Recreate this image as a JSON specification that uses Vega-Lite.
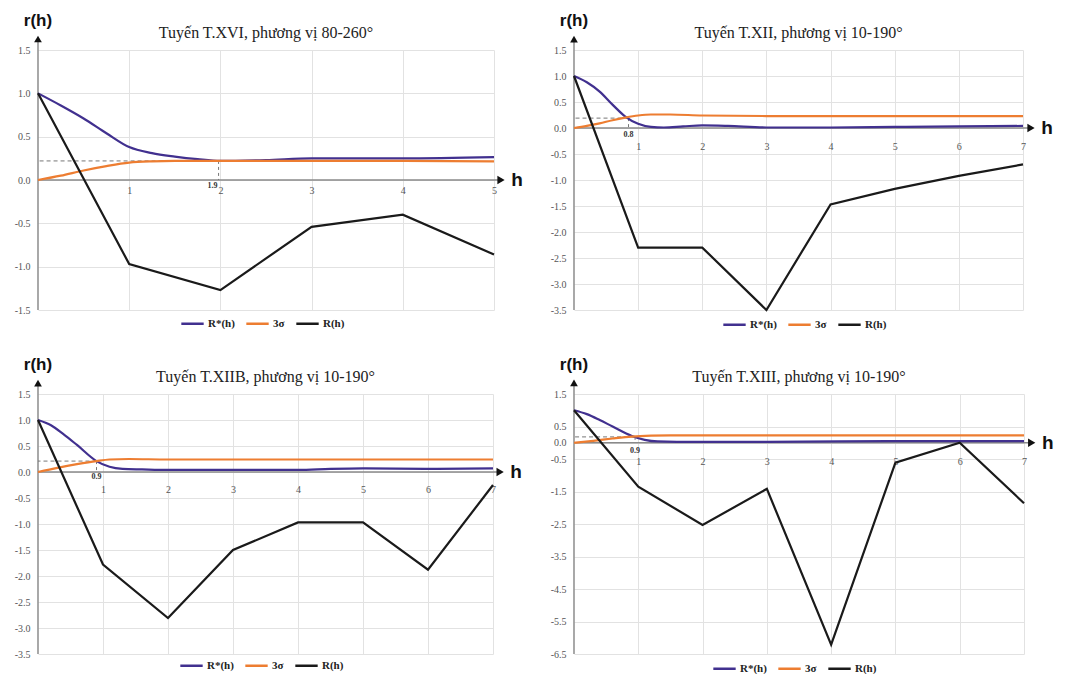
{
"$schema": "https://vega.github.io/schema/vega-lite/v6.json",
"padding": {"left": 14, "top": 11, "right": 0, "bottom": 0},
"background": "white",
"config": {
  "view": {"stroke": null},
  "axis": {"labelFont": "Liberation Serif", "labelFontSize": 10, "labelColor": "#555555", "gridColor": "#e2e2e2", "gridWidth": 1, "ticks": false, "domain": false, "labelOverlap": false, "labelFlush": false, "labelSeparation": 0}
},
"datasets": {
  "d1": [
    {"h":0,"r":1.0,"s":"R*(h)"},{"h":0.25,"r":0.86,"s":"R*(h)"},{"h":0.5,"r":0.71,"s":"R*(h)"},{"h":0.75,"r":0.54,"s":"R*(h)"},{"h":1,"r":0.38,"s":"R*(h)"},{"h":1.25,"r":0.31,"s":"R*(h)"},{"h":1.5,"r":0.27,"s":"R*(h)"},{"h":1.75,"r":0.24,"s":"R*(h)"},{"h":2,"r":0.22,"s":"R*(h)"},{"h":2.5,"r":0.23,"s":"R*(h)"},{"h":3,"r":0.25,"s":"R*(h)"},{"h":4,"r":0.25,"s":"R*(h)"},{"h":5,"r":0.265,"s":"R*(h)"},
    {"h":0,"r":0.0,"s":"3σ"},{"h":0.25,"r":0.05,"s":"3σ"},{"h":0.5,"r":0.11,"s":"3σ"},{"h":0.75,"r":0.16,"s":"3σ"},{"h":1,"r":0.2,"s":"3σ"},{"h":1.25,"r":0.215,"s":"3σ"},{"h":1.5,"r":0.22,"s":"3σ"},{"h":2,"r":0.22,"s":"3σ"},{"h":3,"r":0.22,"s":"3σ"},{"h":4,"r":0.22,"s":"3σ"},{"h":5,"r":0.215,"s":"3σ"},
    {"h":0,"r":1.0,"s":"R(h)"},{"h":1,"r":-0.97,"s":"R(h)"},{"h":2,"r":-1.27,"s":"R(h)"},{"h":3,"r":-0.54,"s":"R(h)"},{"h":4,"r":-0.4,"s":"R(h)"},{"h":5,"r":-0.86,"s":"R(h)"}
  ],
  "c1": [{"h":1.98,"r":0.22,"label":"1.9"}],
  "d2": [
    {"h":0,"r":1.0,"s":"R*(h)"},{"h":0.2,"r":0.88,"s":"R*(h)"},{"h":0.4,"r":0.7,"s":"R*(h)"},{"h":0.6,"r":0.45,"s":"R*(h)"},{"h":0.8,"r":0.22,"s":"R*(h)"},{"h":1,"r":0.08,"s":"R*(h)"},{"h":1.2,"r":0.02,"s":"R*(h)"},{"h":1.4,"r":0.01,"s":"R*(h)"},{"h":1.7,"r":0.03,"s":"R*(h)"},{"h":2,"r":0.05,"s":"R*(h)"},{"h":2.4,"r":0.04,"s":"R*(h)"},{"h":3,"r":0.01,"s":"R*(h)"},{"h":4,"r":0.01,"s":"R*(h)"},{"h":5,"r":0.02,"s":"R*(h)"},{"h":6,"r":0.03,"s":"R*(h)"},{"h":7,"r":0.04,"s":"R*(h)"},
    {"h":0,"r":0.0,"s":"3σ"},{"h":0.2,"r":0.04,"s":"3σ"},{"h":0.4,"r":0.09,"s":"3σ"},{"h":0.6,"r":0.15,"s":"3σ"},{"h":0.8,"r":0.2,"s":"3σ"},{"h":1,"r":0.24,"s":"3σ"},{"h":1.2,"r":0.26,"s":"3σ"},{"h":1.5,"r":0.26,"s":"3σ"},{"h":2,"r":0.24,"s":"3σ"},{"h":3,"r":0.23,"s":"3σ"},{"h":5,"r":0.23,"s":"3σ"},{"h":7,"r":0.23,"s":"3σ"},
    {"h":0,"r":1.0,"s":"R(h)"},{"h":1,"r":-2.3,"s":"R(h)"},{"h":2,"r":-2.3,"s":"R(h)"},{"h":3,"r":-3.5,"s":"R(h)"},{"h":4,"r":-1.47,"s":"R(h)"},{"h":5,"r":-1.17,"s":"R(h)"},{"h":6,"r":-0.92,"s":"R(h)"},{"h":7,"r":-0.7,"s":"R(h)"}
  ],
  "c2": [{"h":0.85,"r":0.19,"label":"0.8"}],
  "d3": [
    {"h":0,"r":1.0,"s":"R*(h)"},{"h":0.2,"r":0.9,"s":"R*(h)"},{"h":0.4,"r":0.72,"s":"R*(h)"},{"h":0.6,"r":0.52,"s":"R*(h)"},{"h":0.9,"r":0.21,"s":"R*(h)"},{"h":1.1,"r":0.1,"s":"R*(h)"},{"h":1.3,"r":0.06,"s":"R*(h)"},{"h":1.6,"r":0.05,"s":"R*(h)"},{"h":2,"r":0.04,"s":"R*(h)"},{"h":3,"r":0.04,"s":"R*(h)"},{"h":4,"r":0.04,"s":"R*(h)"},{"h":4.5,"r":0.06,"s":"R*(h)"},{"h":5,"r":0.07,"s":"R*(h)"},{"h":6,"r":0.06,"s":"R*(h)"},{"h":7,"r":0.07,"s":"R*(h)"},
    {"h":0,"r":0.0,"s":"3σ"},{"h":0.3,"r":0.08,"s":"3σ"},{"h":0.6,"r":0.15,"s":"3σ"},{"h":0.9,"r":0.21,"s":"3σ"},{"h":1.1,"r":0.24,"s":"3σ"},{"h":1.4,"r":0.25,"s":"3σ"},{"h":2,"r":0.24,"s":"3σ"},{"h":4,"r":0.24,"s":"3σ"},{"h":7,"r":0.24,"s":"3σ"},
    {"h":0,"r":1.0,"s":"R(h)"},{"h":1,"r":-1.78,"s":"R(h)"},{"h":2,"r":-2.81,"s":"R(h)"},{"h":3,"r":-1.5,"s":"R(h)"},{"h":4,"r":-0.97,"s":"R(h)"},{"h":5,"r":-0.97,"s":"R(h)"},{"h":6,"r":-1.88,"s":"R(h)"},{"h":7,"r":-0.25,"s":"R(h)"}
  ],
  "c3": [{"h":0.9,"r":0.21,"label":"0.9"}],
  "d4": [
    {"h":0,"r":1.0,"s":"R*(h)"},{"h":0.2,"r":0.88,"s":"R*(h)"},{"h":0.4,"r":0.7,"s":"R*(h)"},{"h":0.6,"r":0.5,"s":"R*(h)"},{"h":0.9,"r":0.21,"s":"R*(h)"},{"h":1.1,"r":0.09,"s":"R*(h)"},{"h":1.3,"r":0.04,"s":"R*(h)"},{"h":1.6,"r":0.03,"s":"R*(h)"},{"h":3,"r":0.03,"s":"R*(h)"},{"h":5,"r":0.05,"s":"R*(h)"},{"h":7,"r":0.05,"s":"R*(h)"},
    {"h":0,"r":0.0,"s":"3σ"},{"h":0.3,"r":0.06,"s":"3σ"},{"h":0.6,"r":0.13,"s":"3σ"},{"h":0.9,"r":0.19,"s":"3σ"},{"h":1.2,"r":0.22,"s":"3σ"},{"h":1.5,"r":0.23,"s":"3σ"},{"h":3,"r":0.23,"s":"3σ"},{"h":7,"r":0.23,"s":"3σ"},
    {"h":0,"r":1.0,"s":"R(h)"},{"h":1,"r":-1.35,"s":"R(h)"},{"h":2,"r":-2.53,"s":"R(h)"},{"h":3,"r":-1.42,"s":"R(h)"},{"h":4,"r":-6.21,"s":"R(h)"},{"h":5,"r":-0.61,"s":"R(h)"},{"h":6,"r":0.0,"s":"R(h)"},{"h":7,"r":-1.86,"s":"R(h)"}
  ],
  "c4": [{"h":0.95,"r":0.18,"label":"0.9"}]
},
"bounds": "flush",
"columns": 2,
"spacing": {"row": 84, "column": 80},
"resolve": {"scale": {"color": "independent"}, "legend": {"color": "independent"}},
"concat": [
{
 "width": 456, "height": 260,
 "layer": [
  {"data":{"values":[{}]},"mark":{"type":"rule","color":"#7a7a7a","strokeWidth":1.3},
   "encoding":{"x":{"datum":0,"type":"quantitative","scale":{"domain":[0,5],"nice":false,"zero":false}},"y":{"datum":-1.5,"type":"quantitative","scale":{"domain":[-1.5,1.5],"nice":false,"zero":false}},"y2":{"datum":1.627}}},
  {"data":{"values":[{}]},"mark":{"type":"rule","color":"#8a8a8a","strokeWidth":1.3},
   "encoding":{"x":{"datum":0,"type":"quantitative","scale":{"domain":[0,5],"nice":false,"zero":false}},"x2":{"datum":5.077},"y":{"datum":0,"type":"quantitative","scale":{"domain":[-1.5,1.5],"nice":false,"zero":false}}}},
  {"data":{"name":"c1"},"mark":{"type":"rule","color":"#777777","strokeWidth":1,"strokeDash":[4,3]},
   "encoding":{"x":{"field":"h","type":"quantitative","scale":{"domain":[0,5],"nice":false,"zero":false}},"x2":{"datum":0},"y":{"field":"r","type":"quantitative","scale":{"domain":[-1.5,1.5],"nice":false,"zero":false}}}},
  {"data":{"name":"c1"},"mark":{"type":"rule","color":"#777777","strokeWidth":1,"strokeDash":[3,3]},
   "encoding":{"x":{"field":"h","type":"quantitative","scale":{"domain":[0,5],"nice":false,"zero":false}},"y":{"field":"r","type":"quantitative","scale":{"domain":[-1.5,1.5],"nice":false,"zero":false}},"y2":{"datum":0}}},
  {"data":{"name":"d1"},"transform":[{"filter":"datum.s !== 'R(h)'"}],"mark":{"type":"line","interpolate":"monotone","strokeWidth":2.2},
   "encoding":{
     "x":{"field":"h","type":"quantitative","scale":{"domain":[0,5],"nice":false,"zero":false},"axis":{"title":null,"orient":"bottom","offset":-130,"values":[1,2,3,4,5],"tickCount":30,"format":"d","grid":true,"labelFlush":false,"labelOverlap":false,"labelPadding":5}},
     "y":{"field":"r","type":"quantitative","scale":{"domain":[-1.5,1.5],"nice":false,"zero":false},"axis":{"title":null,"values":[-1.5,-1,-0.5,0,0.5,1,1.5],"tickCount":30,"format":".1f","grid":true,"labelFlush":false,"labelOverlap":false,"labelPadding":8,"labelExpr":"replace(datum.label, '−', '-')"}},
     "color":{"field":"s","type":"nominal","scale":{"domain":["R*(h)","3σ","R(h)"],"range":["#41308f","#ed7d31","#1a1a1a"]},"legend":{"orient":"none","legendX":142,"legendY":261,"direction":"horizontal","columns":3,"title":null,"symbolType":"stroke","symbolSize":500,"symbolStrokeWidth":2.5,"labelFont":"Liberation Serif","labelFontSize":11,"labelFontWeight":"bold","labelColor":"#222222","columnPadding":6,"labelOffset":3,"padding":0}}}},
  {"data":{"name":"d1"},"transform":[{"filter":"datum.s === 'R(h)'"}],"mark":{"type":"line","strokeWidth":2.2},
   "encoding":{"x":{"field":"h","type":"quantitative","scale":{"domain":[0,5],"nice":false,"zero":false}},"y":{"field":"r","type":"quantitative","scale":{"domain":[-1.5,1.5],"nice":false,"zero":false}},"color":{"field":"s","type":"nominal","scale":{"domain":["R*(h)","3σ","R(h)"],"range":["#41308f","#ed7d31","#1a1a1a"]},"legend":null}}},
  {"data":{"values":[{}]},"mark":{"type":"point","shape":"triangle-right","filled":true,"size":70,"color":"#111111","opacity":1},
   "encoding":{"x":{"datum":5.077,"type":"quantitative","scale":{"domain":[0,5],"nice":false,"zero":false}},"y":{"datum":0,"type":"quantitative","scale":{"domain":[-1.5,1.5],"nice":false,"zero":false}}}},
  {"data":{"values":[{}]},"mark":{"type":"point","shape":"triangle-up","filled":true,"size":60,"color":"#111111","opacity":1},
   "encoding":{"x":{"datum":0,"type":"quantitative","scale":{"domain":[0,5],"nice":false,"zero":false}},"y":{"datum":1.627,"type":"quantitative","scale":{"domain":[-1.5,1.5],"nice":false,"zero":false}}}},
  {"data":{"values":[{}]},"mark":{"type":"text","text":"r(h)","font":"Liberation Sans","fontWeight":"bold","fontSize":17,"dy":-18,"baseline":"middle","align":"center","color":"#111111"},
   "encoding":{"x":{"datum":0,"type":"quantitative","scale":{"domain":[0,5],"nice":false,"zero":false}},"y":{"datum":1.627,"type":"quantitative","scale":{"domain":[-1.5,1.5],"nice":false,"zero":false}}}},
  {"data":{"values":[{}]},"mark":{"type":"text","text":"h","font":"Liberation Sans","fontWeight":"bold","fontSize":19,"dx":16,"baseline":"middle","align":"center","color":"#111111"},
   "encoding":{"x":{"datum":5.077,"type":"quantitative","scale":{"domain":[0,5],"nice":false,"zero":false}},"y":{"datum":0,"type":"quantitative","scale":{"domain":[-1.5,1.5],"nice":false,"zero":false}}}},
  {"data":{"values":[{}]},"mark":{"type":"text","text":"Tuyến T.XVI, phương vị 80-260°","font":"Liberation Serif","fontSize":16,"dy":-12,"baseline":"alphabetic","align":"center","color":"#222222"},
   "encoding":{"x":{"datum":2.5,"type":"quantitative","scale":{"domain":[0,5],"nice":false,"zero":false}},"y":{"datum":1.5,"type":"quantitative","scale":{"domain":[-1.5,1.5],"nice":false,"zero":false}}}},
  {"data":{"name":"c1"},"mark":{"type":"text","font":"Liberation Serif","fontWeight":"bold","fontSize":8,"dy":6,"dx":-1,"baseline":"middle","align":"right","color":"#333333"},
   "encoding":{"x":{"field":"h","type":"quantitative","scale":{"domain":[0,5],"nice":false,"zero":false}},"y":{"datum":0,"type":"quantitative","scale":{"domain":[-1.5,1.5],"nice":false,"zero":false}},"text":{"field":"label","type":"nominal"}}}
 ]
},
{
 "width": 449, "height": 260,
 "layer": [
  {"data":{"values":[{}]},"mark":{"type":"rule","color":"#7a7a7a","strokeWidth":1.3},
   "encoding":{"x":{"datum":0,"type":"quantitative","scale":{"domain":[0,7],"nice":false,"zero":false}},"y":{"datum":-3.5,"type":"quantitative","scale":{"domain":[-3.5,1.5],"nice":false,"zero":false}},"y2":{"datum":1.71}}},
  {"data":{"values":[{}]},"mark":{"type":"rule","color":"#8a8a8a","strokeWidth":1.3},
   "encoding":{"x":{"datum":0,"type":"quantitative","scale":{"domain":[0,7],"nice":false,"zero":false}},"x2":{"datum":7.125},"y":{"datum":0,"type":"quantitative","scale":{"domain":[-3.5,1.5],"nice":false,"zero":false}}}},
  {"data":{"name":"c2"},"mark":{"type":"rule","color":"#777777","strokeWidth":1,"strokeDash":[4,3]},
   "encoding":{"x":{"field":"h","type":"quantitative","scale":{"domain":[0,7],"nice":false,"zero":false}},"x2":{"datum":0},"y":{"field":"r","type":"quantitative","scale":{"domain":[-3.5,1.5],"nice":false,"zero":false}}}},
  {"data":{"name":"c2"},"mark":{"type":"rule","color":"#777777","strokeWidth":1,"strokeDash":[3,3]},
   "encoding":{"x":{"field":"h","type":"quantitative","scale":{"domain":[0,7],"nice":false,"zero":false}},"y":{"field":"r","type":"quantitative","scale":{"domain":[-3.5,1.5],"nice":false,"zero":false}},"y2":{"datum":0}}},
  {"data":{"name":"d2"},"transform":[{"filter":"datum.s !== 'R(h)'"}],"mark":{"type":"line","interpolate":"monotone","strokeWidth":2.2},
   "encoding":{
     "x":{"field":"h","type":"quantitative","scale":{"domain":[0,7],"nice":false,"zero":false},"axis":{"title":null,"orient":"bottom","offset":-182,"values":[1,2,3,4,5,6,7],"tickCount":30,"format":"d","grid":true,"labelFlush":false,"labelOverlap":false,"labelPadding":13}},
     "y":{"field":"r","type":"quantitative","scale":{"domain":[-3.5,1.5],"nice":false,"zero":false},"axis":{"title":null,"values":[-3.5,-3,-2.5,-2,-1.5,-1,-0.5,0,0.5,1,1.5],"tickCount":30,"format":".1f","grid":true,"labelFlush":false,"labelOverlap":false,"labelPadding":8,"labelExpr":"replace(datum.label, '−', '-')"}},
     "color":{"field":"s","type":"nominal","scale":{"domain":["R*(h)","3σ","R(h)"],"range":["#41308f","#ed7d31","#1a1a1a"]},"legend":{"orient":"none","legendX":148,"legendY":262,"direction":"horizontal","columns":3,"title":null,"symbolType":"stroke","symbolSize":500,"symbolStrokeWidth":2.5,"labelFont":"Liberation Serif","labelFontSize":11,"labelFontWeight":"bold","labelColor":"#222222","columnPadding":6,"labelOffset":3,"padding":0}}}},
  {"data":{"name":"d2"},"transform":[{"filter":"datum.s === 'R(h)'"}],"mark":{"type":"line","strokeWidth":2.2},
   "encoding":{"x":{"field":"h","type":"quantitative","scale":{"domain":[0,7],"nice":false,"zero":false}},"y":{"field":"r","type":"quantitative","scale":{"domain":[-3.5,1.5],"nice":false,"zero":false}},"color":{"field":"s","type":"nominal","scale":{"domain":["R*(h)","3σ","R(h)"],"range":["#41308f","#ed7d31","#1a1a1a"]},"legend":null}}},
  {"data":{"values":[{}]},"mark":{"type":"point","shape":"triangle-right","filled":true,"size":70,"color":"#111111","opacity":1},
   "encoding":{"x":{"datum":7.125,"type":"quantitative","scale":{"domain":[0,7],"nice":false,"zero":false}},"y":{"datum":0,"type":"quantitative","scale":{"domain":[-3.5,1.5],"nice":false,"zero":false}}}},
  {"data":{"values":[{}]},"mark":{"type":"point","shape":"triangle-up","filled":true,"size":60,"color":"#111111","opacity":1},
   "encoding":{"x":{"datum":0,"type":"quantitative","scale":{"domain":[0,7],"nice":false,"zero":false}},"y":{"datum":1.71,"type":"quantitative","scale":{"domain":[-3.5,1.5],"nice":false,"zero":false}}}},
  {"data":{"values":[{}]},"mark":{"type":"text","text":"r(h)","font":"Liberation Sans","fontWeight":"bold","fontSize":17,"dy":-18,"baseline":"middle","align":"center","color":"#111111"},
   "encoding":{"x":{"datum":0,"type":"quantitative","scale":{"domain":[0,7],"nice":false,"zero":false}},"y":{"datum":1.71,"type":"quantitative","scale":{"domain":[-3.5,1.5],"nice":false,"zero":false}}}},
  {"data":{"values":[{}]},"mark":{"type":"text","text":"h","font":"Liberation Sans","fontWeight":"bold","fontSize":19,"dx":16,"baseline":"middle","align":"center","color":"#111111"},
   "encoding":{"x":{"datum":7.125,"type":"quantitative","scale":{"domain":[0,7],"nice":false,"zero":false}},"y":{"datum":0,"type":"quantitative","scale":{"domain":[-3.5,1.5],"nice":false,"zero":false}}}},
  {"data":{"values":[{}]},"mark":{"type":"text","text":"Tuyến T.XII, phương vị 10-190°","font":"Liberation Serif","fontSize":16,"dy":-12,"baseline":"alphabetic","align":"center","color":"#222222"},
   "encoding":{"x":{"datum":3.5,"type":"quantitative","scale":{"domain":[0,7],"nice":false,"zero":false}},"y":{"datum":1.5,"type":"quantitative","scale":{"domain":[-3.5,1.5],"nice":false,"zero":false}}}},
  {"data":{"name":"c2"},"mark":{"type":"text","font":"Liberation Serif","fontWeight":"bold","fontSize":8,"dy":7,"baseline":"middle","align":"center","color":"#333333"},
   "encoding":{"x":{"field":"h","type":"quantitative","scale":{"domain":[0,7],"nice":false,"zero":false}},"y":{"datum":0,"type":"quantitative","scale":{"domain":[-3.5,1.5],"nice":false,"zero":false}},"text":{"field":"label","type":"nominal"}}}
 ]
},
{
 "width": 455, "height": 260,
 "layer": [
  {"data":{"values":[{}]},"mark":{"type":"rule","color":"#7a7a7a","strokeWidth":1.3},
   "encoding":{"x":{"datum":0,"type":"quantitative","scale":{"domain":[0,7],"nice":false,"zero":false}},"y":{"datum":-3.5,"type":"quantitative","scale":{"domain":[-3.5,1.5],"nice":false,"zero":false}},"y2":{"datum":1.71}}},
  {"data":{"values":[{}]},"mark":{"type":"rule","color":"#8a8a8a","strokeWidth":1.3},
   "encoding":{"x":{"datum":0,"type":"quantitative","scale":{"domain":[0,7],"nice":false,"zero":false}},"x2":{"datum":7.11},"y":{"datum":0,"type":"quantitative","scale":{"domain":[-3.5,1.5],"nice":false,"zero":false}}}},
  {"data":{"name":"c3"},"mark":{"type":"rule","color":"#777777","strokeWidth":1,"strokeDash":[4,3]},
   "encoding":{"x":{"field":"h","type":"quantitative","scale":{"domain":[0,7],"nice":false,"zero":false}},"x2":{"datum":0},"y":{"field":"r","type":"quantitative","scale":{"domain":[-3.5,1.5],"nice":false,"zero":false}}}},
  {"data":{"name":"c3"},"mark":{"type":"rule","color":"#777777","strokeWidth":1,"strokeDash":[3,3]},
   "encoding":{"x":{"field":"h","type":"quantitative","scale":{"domain":[0,7],"nice":false,"zero":false}},"y":{"field":"r","type":"quantitative","scale":{"domain":[-3.5,1.5],"nice":false,"zero":false}},"y2":{"datum":0}}},
  {"data":{"name":"d3"},"transform":[{"filter":"datum.s !== 'R(h)'"}],"mark":{"type":"line","interpolate":"monotone","strokeWidth":2.2},
   "encoding":{
     "x":{"field":"h","type":"quantitative","scale":{"domain":[0,7],"nice":false,"zero":false},"axis":{"title":null,"orient":"bottom","offset":-182,"values":[1,2,3,4,5,6,7],"tickCount":30,"format":"d","grid":true,"labelFlush":false,"labelOverlap":false,"labelPadding":12}},
     "y":{"field":"r","type":"quantitative","scale":{"domain":[-3.5,1.5],"nice":false,"zero":false},"axis":{"title":null,"values":[-3.5,-3,-2.5,-2,-1.5,-1,-0.5,0,0.5,1,1.5],"tickCount":30,"format":".1f","grid":true,"labelFlush":false,"labelOverlap":false,"labelPadding":8,"labelExpr":"replace(datum.label, '−', '-')"}},
     "color":{"field":"s","type":"nominal","scale":{"domain":["R*(h)","3σ","R(h)"],"range":["#41308f","#ed7d31","#1a1a1a"]},"legend":{"orient":"none","legendX":141,"legendY":259,"direction":"horizontal","columns":3,"title":null,"symbolType":"stroke","symbolSize":500,"symbolStrokeWidth":2.5,"labelFont":"Liberation Serif","labelFontSize":11,"labelFontWeight":"bold","labelColor":"#222222","columnPadding":6,"labelOffset":3,"padding":0}}}},
  {"data":{"name":"d3"},"transform":[{"filter":"datum.s === 'R(h)'"}],"mark":{"type":"line","strokeWidth":2.2},
   "encoding":{"x":{"field":"h","type":"quantitative","scale":{"domain":[0,7],"nice":false,"zero":false}},"y":{"field":"r","type":"quantitative","scale":{"domain":[-3.5,1.5],"nice":false,"zero":false}},"color":{"field":"s","type":"nominal","scale":{"domain":["R*(h)","3σ","R(h)"],"range":["#41308f","#ed7d31","#1a1a1a"]},"legend":null}}},
  {"data":{"values":[{}]},"mark":{"type":"point","shape":"triangle-right","filled":true,"size":70,"color":"#111111","opacity":1},
   "encoding":{"x":{"datum":7.11,"type":"quantitative","scale":{"domain":[0,7],"nice":false,"zero":false}},"y":{"datum":0,"type":"quantitative","scale":{"domain":[-3.5,1.5],"nice":false,"zero":false}}}},
  {"data":{"values":[{}]},"mark":{"type":"point","shape":"triangle-up","filled":true,"size":60,"color":"#111111","opacity":1},
   "encoding":{"x":{"datum":0,"type":"quantitative","scale":{"domain":[0,7],"nice":false,"zero":false}},"y":{"datum":1.71,"type":"quantitative","scale":{"domain":[-3.5,1.5],"nice":false,"zero":false}}}},
  {"data":{"values":[{}]},"mark":{"type":"text","text":"r(h)","font":"Liberation Sans","fontWeight":"bold","fontSize":17,"dy":-18,"baseline":"middle","align":"center","color":"#111111"},
   "encoding":{"x":{"datum":0,"type":"quantitative","scale":{"domain":[0,7],"nice":false,"zero":false}},"y":{"datum":1.71,"type":"quantitative","scale":{"domain":[-3.5,1.5],"nice":false,"zero":false}}}},
  {"data":{"values":[{}]},"mark":{"type":"text","text":"h","font":"Liberation Sans","fontWeight":"bold","fontSize":19,"dx":16,"baseline":"middle","align":"center","color":"#111111"},
   "encoding":{"x":{"datum":7.11,"type":"quantitative","scale":{"domain":[0,7],"nice":false,"zero":false}},"y":{"datum":0,"type":"quantitative","scale":{"domain":[-3.5,1.5],"nice":false,"zero":false}}}},
  {"data":{"values":[{}]},"mark":{"type":"text","text":"Tuyến T.XIIB, phương vị 10-190°","font":"Liberation Serif","fontSize":16,"dy":-12,"baseline":"alphabetic","align":"center","color":"#222222"},
   "encoding":{"x":{"datum":3.5,"type":"quantitative","scale":{"domain":[0,7],"nice":false,"zero":false}},"y":{"datum":1.5,"type":"quantitative","scale":{"domain":[-3.5,1.5],"nice":false,"zero":false}}}},
  {"data":{"name":"c3"},"mark":{"type":"text","font":"Liberation Serif","fontWeight":"bold","fontSize":8,"dy":5,"baseline":"middle","align":"center","color":"#333333"},
   "encoding":{"x":{"field":"h","type":"quantitative","scale":{"domain":[0,7],"nice":false,"zero":false}},"y":{"datum":0,"type":"quantitative","scale":{"domain":[-3.5,1.5],"nice":false,"zero":false}},"text":{"field":"label","type":"nominal"}}}
 ]
},
{
 "width": 450, "height": 260,
 "layer": [
  {"data":{"values":[{}]},"mark":{"type":"rule","color":"#7a7a7a","strokeWidth":1.3},
   "encoding":{"x":{"datum":0,"type":"quantitative","scale":{"domain":[0,7],"nice":false,"zero":false}},"y":{"datum":-6.5,"type":"quantitative","scale":{"domain":[-6.5,1.5],"nice":false,"zero":false}},"y2":{"datum":1.84}}},
  {"data":{"values":[{}]},"mark":{"type":"rule","color":"#8a8a8a","strokeWidth":1.3},
   "encoding":{"x":{"datum":0,"type":"quantitative","scale":{"domain":[0,7],"nice":false,"zero":false}},"x2":{"datum":7.12},"y":{"datum":0,"type":"quantitative","scale":{"domain":[-6.5,1.5],"nice":false,"zero":false}}}},
  {"data":{"name":"c4"},"mark":{"type":"rule","color":"#777777","strokeWidth":1,"strokeDash":[4,3]},
   "encoding":{"x":{"field":"h","type":"quantitative","scale":{"domain":[0,7],"nice":false,"zero":false}},"x2":{"datum":0},"y":{"field":"r","type":"quantitative","scale":{"domain":[-6.5,1.5],"nice":false,"zero":false}}}},
  {"data":{"name":"c4"},"mark":{"type":"rule","color":"#777777","strokeWidth":1,"strokeDash":[3,3]},
   "encoding":{"x":{"field":"h","type":"quantitative","scale":{"domain":[0,7],"nice":false,"zero":false}},"y":{"field":"r","type":"quantitative","scale":{"domain":[-6.5,1.5],"nice":false,"zero":false}},"y2":{"datum":0}}},
  {"data":{"name":"d4"},"transform":[{"filter":"datum.s !== 'R(h)'"}],"mark":{"type":"line","interpolate":"monotone","strokeWidth":2.2},
   "encoding":{
     "x":{"field":"h","type":"quantitative","scale":{"domain":[0,7],"nice":false,"zero":false},"axis":{"title":null,"orient":"bottom","offset":-211,"values":[1,2,3,4,5,6,7],"tickCount":30,"format":"d","grid":true,"labelFlush":false,"labelOverlap":false,"labelPadding":13}},
     "y":{"field":"r","type":"quantitative","scale":{"domain":[-6.5,1.5],"nice":false,"zero":false},"axis":{"title":null,"values":[-6.5,-5.5,-4.5,-3.5,-2.5,-1.5,-0.5,0,0.5,1.5],"tickCount":30,"format":".1f","grid":true,"labelFlush":false,"labelOverlap":false,"labelPadding":8,"labelExpr":"replace(datum.label, '−', '-')"}},
     "color":{"field":"s","type":"nominal","scale":{"domain":["R*(h)","3σ","R(h)"],"range":["#41308f","#ed7d31","#1a1a1a"]},"legend":{"orient":"none","legendX":138,"legendY":262,"direction":"horizontal","columns":3,"title":null,"symbolType":"stroke","symbolSize":500,"symbolStrokeWidth":2.5,"labelFont":"Liberation Serif","labelFontSize":11,"labelFontWeight":"bold","labelColor":"#222222","columnPadding":6,"labelOffset":3,"padding":0}}}},
  {"data":{"name":"d4"},"transform":[{"filter":"datum.s === 'R(h)'"}],"mark":{"type":"line","strokeWidth":2.2},
   "encoding":{"x":{"field":"h","type":"quantitative","scale":{"domain":[0,7],"nice":false,"zero":false}},"y":{"field":"r","type":"quantitative","scale":{"domain":[-6.5,1.5],"nice":false,"zero":false}},"color":{"field":"s","type":"nominal","scale":{"domain":["R*(h)","3σ","R(h)"],"range":["#41308f","#ed7d31","#1a1a1a"]},"legend":null}}},
  {"data":{"values":[{}]},"mark":{"type":"point","shape":"triangle-right","filled":true,"size":70,"color":"#111111","opacity":1},
   "encoding":{"x":{"datum":7.12,"type":"quantitative","scale":{"domain":[0,7],"nice":false,"zero":false}},"y":{"datum":0,"type":"quantitative","scale":{"domain":[-6.5,1.5],"nice":false,"zero":false}}}},
  {"data":{"values":[{}]},"mark":{"type":"point","shape":"triangle-up","filled":true,"size":60,"color":"#111111","opacity":1},
   "encoding":{"x":{"datum":0,"type":"quantitative","scale":{"domain":[0,7],"nice":false,"zero":false}},"y":{"datum":1.84,"type":"quantitative","scale":{"domain":[-6.5,1.5],"nice":false,"zero":false}}}},
  {"data":{"values":[{}]},"mark":{"type":"text","text":"r(h)","font":"Liberation Sans","fontWeight":"bold","fontSize":17,"dy":-18,"baseline":"middle","align":"center","color":"#111111"},
   "encoding":{"x":{"datum":0,"type":"quantitative","scale":{"domain":[0,7],"nice":false,"zero":false}},"y":{"datum":1.84,"type":"quantitative","scale":{"domain":[-6.5,1.5],"nice":false,"zero":false}}}},
  {"data":{"values":[{}]},"mark":{"type":"text","text":"h","font":"Liberation Sans","fontWeight":"bold","fontSize":19,"dx":16,"baseline":"middle","align":"center","color":"#111111"},
   "encoding":{"x":{"datum":7.12,"type":"quantitative","scale":{"domain":[0,7],"nice":false,"zero":false}},"y":{"datum":0,"type":"quantitative","scale":{"domain":[-6.5,1.5],"nice":false,"zero":false}}}},
  {"data":{"values":[{}]},"mark":{"type":"text","text":"Tuyến T.XIII, phương vị 10-190°","font":"Liberation Serif","fontSize":16,"dy":-12,"baseline":"alphabetic","align":"center","color":"#222222"},
   "encoding":{"x":{"datum":3.5,"type":"quantitative","scale":{"domain":[0,7],"nice":false,"zero":false}},"y":{"datum":1.5,"type":"quantitative","scale":{"domain":[-6.5,1.5],"nice":false,"zero":false}}}},
  {"data":{"name":"c4"},"mark":{"type":"text","font":"Liberation Serif","fontWeight":"bold","fontSize":8,"dy":8,"baseline":"middle","align":"center","color":"#333333"},
   "encoding":{"x":{"field":"h","type":"quantitative","scale":{"domain":[0,7],"nice":false,"zero":false}},"y":{"datum":0,"type":"quantitative","scale":{"domain":[-6.5,1.5],"nice":false,"zero":false}},"text":{"field":"label","type":"nominal"}}}
 ]
}
]
}
